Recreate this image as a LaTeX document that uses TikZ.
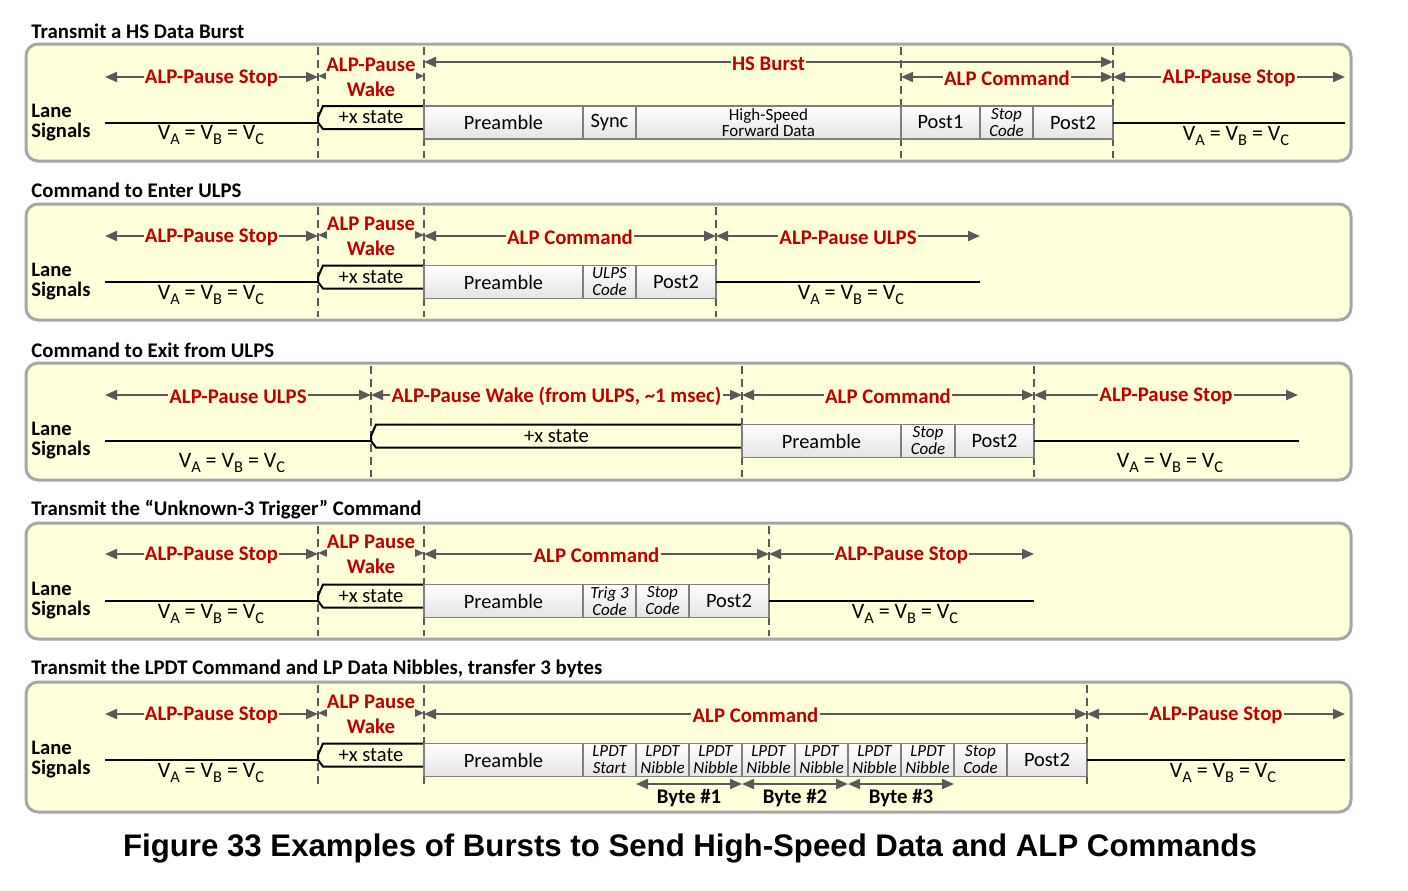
\documentclass[tikz,border=0pt]{standalone}
\usepackage{fontspec}
\setmainfont{Carlito}
\newfontfamily\capfont{Liberation Sans}
\usetikzlibrary{arrows.meta}
\definecolor{alpred}{HTML}{C00000}
\definecolor{arrgray}{HTML}{595959}
\definecolor{panelfill}{HTML}{FFFFDA}
\definecolor{panelborder}{HTML}{A6A6A6}
\definecolor{cellborder}{HTML}{7F7F7F}
\definecolor{cellgray}{HTML}{E4E4E4}
\newcommand\dimarr[6][]{%
  \coordinate (#2a) at (#3,#5);\coordinate (#2b) at (#4,#5);
  \draw[dimline] (#2a) -- node[lbl,#1] (#2) {#6} (#2b);}
\newcommand\cell[6][]{%
  \pgfmathsetmacro\cw{(#4-#3)*0.5}%
  \node[cellbox,minimum width=\cw pt,#1] (#2) at ({(#3+#4)/2},#5) {#6};}
\newcommand\xstate[4]{%
  \draw[sig,line join=miter] (#3,#4-16.5) -- (#2+5,#4-16.5) -- (#2,#4-5) -- (#2,#4) -- (#2+5,#4+6.5) -- (#3,#4+6.5);
  \node[txt] (#1) at ({(#2+#3)/2},#4-5) {+x state};}
\newcommand\dline[4]{\coordinate (#1t) at (#2,#3);\coordinate (#1b) at (#2,#4);\draw[dashline] (#1t) -- (#1b);}
\newcommand\sbs[1]{\raisebox{-0.22em}{\fontsize{8.2}{8}\selectfont #1}}
\newcommand\vabc{V\sbs{A} = V\sbs{B} = V\sbs{C}}
\begin{document}
\begin{tikzpicture}[x=0.5pt,y=-0.5pt,
  panel/.style={draw=panelborder,fill=panelfill,line width=1.5pt,rounded corners=6pt},
  dimline/.style={draw=arrgray,line width=1pt,{Triangle[length=6pt,width=5pt]}-{Triangle[length=6pt,width=5pt]}},
  lbl/.style={font=\bfseries\fontsize{10.4}{12.5}\selectfont,text=alpred,fill=panelfill,inner xsep=0.6pt,inner ysep=1pt,yshift=-0.8pt,align=center},
  wake/.style={inner sep=0pt,yshift=0pt},
  cellbox/.style={draw=cellborder,line width=0.75pt,top color=white,bottom color=cellgray,minimum height=16.5pt,inner sep=0pt,outer sep=0pt,align=center,font=\fontsize{10.2}{12}\selectfont},
  small/.style={font=\itshape\fontsize{8.5}{8.5}\selectfont},
  hs/.style={font=\fontsize{8.5}{8}\selectfont},
  sig/.style={draw=black,line width=1pt},
  dashline/.style={draw=arrgray,line width=1pt,dash pattern=on 4pt off 2.5pt},
  txt/.style={font=\fontsize{10.3}{12}\selectfont,inner sep=0pt},
  vtxt/.style={font=\fontsize{11}{12}\selectfont,inner sep=0pt},
  ttl/.style={font=\bfseries\fontsize{10.4}{12}\selectfont,anchor=west,inner sep=0pt},
  lane/.style={font=\bfseries\fontsize{10.3}{10}\selectfont,anchor=west,align=left,inner sep=0pt},
  byte/.style={font=\bfseries\fontsize{10.4}{12}\selectfont,inner sep=0pt}]
\useasboundingbox (0,0) rectangle (1408,890);
%% Panel 1
\draw[panel] (26,44) rectangle (1351,161);
\node[ttl] (t1) at (31,31) {Transmit a HS Data Burst};
\node[lane] (l1) at (31,122.5) {Lane\\Signals};
\dline{d11}{318}{47}{158}\dline{d12}{424}{47}{158}\dline{d13}{901}{47}{158}\dline{d14}{1113}{47}{158}
\dimarr{a11}{105}{318}{77}{ALP-Pause Stop}
\dimarr[wake]{a12}{318}{424}{76}{ALP-Pause\\Wake}
\dimarr{a13}{424}{1113}{62}{HS Burst}
\dimarr{a14}{901}{1113}{77}{ALP Command}
\dimarr{a15}{1113}{1345}{77}{ALP-Pause Stop}
\xstate{x1}{318}{424}{122.5}
\cell{c11}{424}{583}{122.5}{Preamble}
\cell{c12}{583}{636}{122.5}{Sync}
\cell[hs]{c13}{636}{901}{122.5}{High-Speed\\Forward Data}
\cell{c14}{901}{980}{122.5}{Post1}
\cell[small]{c15}{980}{1033}{122.5}{Stop\\Code}
\cell{c16}{1033}{1113}{122.5}{Post2}
\coordinate (s11) at (105,122.5);
\draw[sig] (s11) -- (318,122.5);
\coordinate (s12) at (1345,122.5);
\draw[sig] (c16.east) -- (s12);
\node[vtxt] (v11) at (211,135) {\vabc};
\node[vtxt] (v12) at (1236,136) {\vabc};
%% Panel 2
\draw[panel] (26,204) rectangle (1351,320);
\node[ttl] (t2) at (31,190) {Command to Enter ULPS};
\node[lane] (l2) at (31,282) {Lane\\Signals};
\dline{d21}{318}{207}{317}\dline{d22}{424}{207}{317}\dline{d23}{716}{207}{317}
\dimarr{a21}{105}{318}{236}{ALP-Pause Stop}
\dimarr[wake]{a22}{318}{424}{235}{ALP Pause\\Wake}
\dimarr{a23}{424}{716}{236}{ALP Command}
\dimarr{a24}{716}{980}{236}{ALP-Pause ULPS}
\xstate{x2}{318}{424}{282}
\cell{c21}{424}{583}{282}{Preamble}
\cell[small]{c22}{583}{636}{282}{ULPS\\Code}
\cell{c23}{636}{716}{282}{Post2}
\coordinate (s21) at (105,282);
\draw[sig] (s21) -- (318,282);
\coordinate (s22) at (980,282);
\draw[sig] (c23.east) -- (s22);
\node[vtxt] (v21) at (211,295) {\vabc};
\node[vtxt] (v22) at (851,295) {\vabc};
%% Panel 3
\draw[panel] (26,363) rectangle (1351,480);
\node[ttl] (t3) at (31,350) {Command to Exit from ULPS};
\node[lane] (l3) at (31,441) {Lane\\Signals};
\dline{d31}{371}{366}{477}\dline{d32}{742}{366}{477}\dline{d33}{1034}{366}{477}
\dimarr{a31}{105}{371}{395}{ALP-Pause ULPS}
\dimarr{a32}{371}{742}{395}{ALP-Pause Wake (from ULPS, \textasciitilde1 msec)}
\dimarr{a33}{742}{1034}{395}{ALP Command}
\dimarr{a34}{1034}{1298}{395}{ALP-Pause Stop}
\xstate{x3}{371}{742}{441}
\cell{c31}{742}{901}{441}{Preamble}
\cell[small]{c32}{901}{955}{441}{Stop\\Code}
\cell{c33}{955}{1034}{441}{Post2}
\coordinate (s31) at (105,441);
\draw[sig] (s31) -- (371,441);
\coordinate (s32) at (1299,441);
\draw[sig] (c33.east) -- (s32);
\node[vtxt] (v31) at (232,463) {\vabc};
\node[vtxt] (v32) at (1170,463) {\vabc};
%% Panel 4
\draw[panel] (26,523) rectangle (1351,639);
\node[ttl] (t4) at (31,510) {Transmit the “Unknown-3 Trigger” Command};
\node[lane] (l4) at (31,601) {Lane\\Signals};
\dline{d41}{318}{526}{636}\dline{d42}{424}{526}{636}\dline{d43}{769}{526}{636}
\dimarr{a41}{105}{318}{554}{ALP-Pause Stop}
\dimarr[wake]{a42}{318}{424}{553}{ALP Pause\\Wake}
\dimarr{a43}{424}{769}{554}{ALP Command}
\dimarr{a44}{769}{1034}{554}{ALP-Pause Stop}
\xstate{x4}{318}{424}{601}
\cell{c41}{424}{583}{601}{Preamble}
\cell[small]{c42}{583}{636}{601}{Trig 3\\Code}
\cell[small]{c43}{636}{689}{601}{Stop\\Code}
\cell{c44}{689}{769}{601}{Post2}
\coordinate (s41) at (105,601);
\draw[sig] (s41) -- (318,601);
\coordinate (s42) at (1034,601);
\draw[sig] (c44.east) -- (s42);
\node[vtxt] (v41) at (211,614) {\vabc};
\node[vtxt] (v42) at (905,614) {\vabc};
%% Panel 5
\draw[panel] (26,682) rectangle (1351,812);
\node[ttl] (t5) at (31,669) {Transmit the LPDT Command and LP Data Nibbles, transfer 3 bytes};
\node[lane] (l5) at (31,760) {Lane\\Signals};
\dline{d51}{318}{685}{788}\dline{d52}{424}{685}{788}\dline{d53}{1087}{685}{788}
\dimarr{a51}{105}{318}{714}{ALP-Pause Stop}
\dimarr[wake]{a52}{318}{424}{713}{ALP Pause\\Wake}
\dimarr{a53}{424}{1087}{714}{ALP Command}
\dimarr{a54}{1087}{1345}{714}{ALP-Pause Stop}
\xstate{x5}{318}{424}{760}
\cell{c51}{424}{583}{760}{Preamble}
\cell[small]{c52}{583}{636}{760}{LPDT\\Start}
\cell[small]{c53}{636}{689}{760}{LPDT\\Nibble}
\cell[small]{c54}{689}{742}{760}{LPDT\\Nibble}
\cell[small]{c55}{742}{795}{760}{LPDT\\Nibble}
\cell[small]{c56}{795}{848}{760}{LPDT\\Nibble}
\cell[small]{c57}{848}{901}{760}{LPDT\\Nibble}
\cell[small]{c58}{901}{954}{760}{LPDT\\Nibble}
\cell[small]{c59}{954}{1007}{760}{Stop\\Code}
\cell{c5x}{1007}{1087}{760}{Post2}
\coordinate (s51) at (105,760);
\draw[sig] (s51) -- (318,760);
\coordinate (s52) at (1345,760);
\draw[sig] (c5x.east) -- (s52);
\node[vtxt] (v51) at (211,773) {\vabc};
\node[vtxt] (v52) at (1223,773) {\vabc};
\coordinate (b1a) at (636,784);\coordinate (b1b) at (742,784);
\coordinate (b2b) at (848,784);\coordinate (b3b) at (954,784);
\draw[dimline] (b1a) -- (b1b);
\draw[dimline] (b1b) -- (b2b);
\draw[dimline] (b2b) -- (b3b);
\node[byte] (y1) at (689,798) {Byte \#1};
\node[byte] (y2) at (795,798) {Byte \#2};
\node[byte] (y3) at (901,798) {Byte \#3};
%% Caption
\node[font=\capfont\bfseries\fontsize{15.6}{18}\selectfont,inner sep=0pt] (cap) at (690,848) {Figure 33 Examples of Bursts to Send High-Speed Data and ALP Commands};
\end{tikzpicture}
\end{document}
